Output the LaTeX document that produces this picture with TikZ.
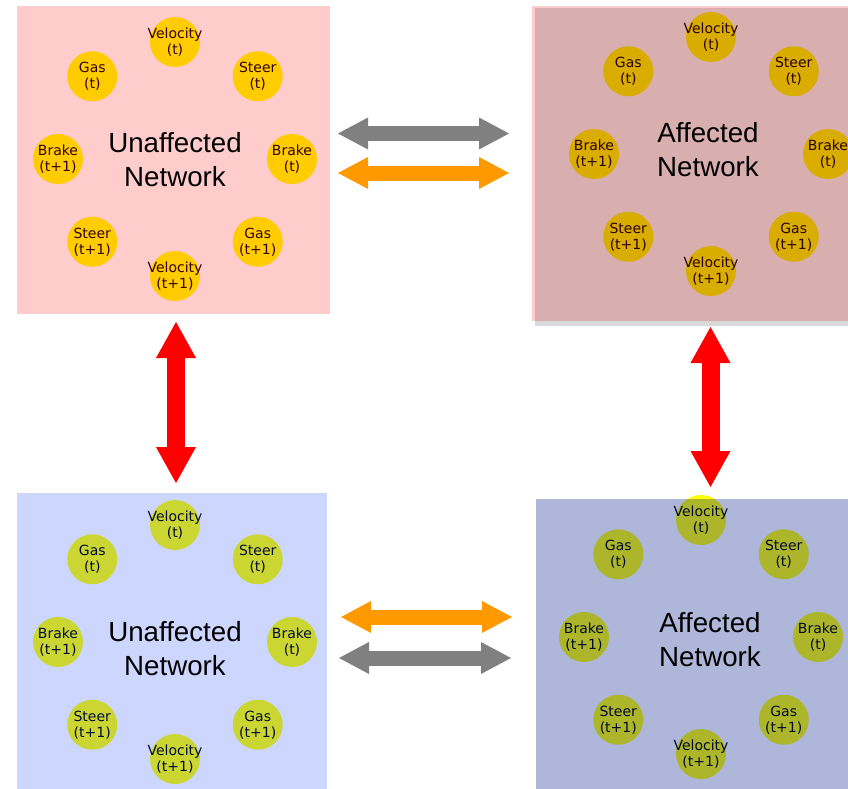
\documentclass[tikz,border=0pt]{standalone}
\usepackage{fontspec}
\setmainfont{Liberation Sans}
\newfontfamily\varfont{DejaVu Sans}
\usetikzlibrary{arrows.meta, calc}
\definecolor{color_var}{RGB}{255,255,0}
\definecolor{color_red}{RGB}{255,0,0}
\definecolor{color_blue}{RGB}{0,51,255}
\definecolor{color_orng}{RGB}{255,153,0}
\definecolor{color_gray}{RGB}{128,128,128}

\begin{document}
\begin{tikzpicture}[x=1pt, y=-1pt,
	var/.style={circle, fill=color_var, minimum size=50pt, inner sep=0pt},
	varname/.style={align=center, inner sep=0pt, font=\varfont\fontsize{14}{16}\selectfont},
	title/.style={align=center, font=\fontsize{27.7}{34}\selectfont},
	hlink/.style={line width=15pt,
		{Triangle[length=30pt, width=32pt, line width=0pt]}-{Triangle[length=30pt, width=32pt, line width=0pt]}},
	vlink/.style={line width=18pt, color_red,
		{Triangle[length=36pt, width=40pt, line width=0pt]}-{Triangle[length=36pt, width=40pt, line width=0pt]}}]
	\useasboundingbox (0,0) rectangle (848,789);
	% VARIABLES
	\foreach \net/\cx/\cy in {ul/175/159, ur/711/154, ll/175/642, lr/701/637}{
		\coordinate (\net) at (\cx,\cy);
		\foreach \a/\lbl [count=\i] in {90/{Velocity\\(t)}, 45/{Steer\\(t)}, 0/{Brake\\(t)},
			-45/{Gas\\(t+1)}, -90/{Velocity\\(t+1)}, -135/{Steer\\(t+1)}, 180/{Brake\\(t+1)}, 135/{Gas\\(t)}}
			\node[var, label={[varname]center:\lbl}] (\net-\i) at ($(\net)+(\a:117pt)$) {};
	}
	% NETWORKS
	\fill[color_red, fill opacity=.2] (17,6) rectangle (330,314);
	\fill[color_red, fill opacity=.2] (532,6) rectangle (848,321);
	\fill[black, fill opacity=.15] (535,8) rectangle (848,326);
	\fill[color_blue, fill opacity=.2] (17,493) rectangle (327,789);
	\fill[color_blue, fill opacity=.2] (536,499) rectangle (848,789);
	\fill[black, fill opacity=.15] (536,499) rectangle (848,789);
	\node[title] (ul-name) at (175,160) {Unaffected\\Network};
	\node[title] (ur-name) at (708,150) {Affected\\Network};
	\node[title] (ll-name) at (175,649) {Unaffected\\Network};
	\node[title] (lr-name) at (710,640) {Affected\\Network};
	% LINKS
	\coordinate (ul-e1) at (338,133.5);
	\coordinate (ur-w1) at (509,133.5);
	\coordinate (ul-e2) at (338,173);
	\coordinate (ur-w2) at (509,173);
	\coordinate (ll-e1) at (341,617);
	\coordinate (lr-w1) at (512,617);
	\coordinate (ll-e2) at (339,658);
	\coordinate (lr-w2) at (511,658);
	\coordinate (ul-s) at (176,322);
	\coordinate (ll-n) at (176,483);
	\coordinate (ur-s) at (710.5,327);
	\coordinate (lr-n) at (710.5,487);
	\draw[hlink, color_gray] (ul-e1) -- (ur-w1);
	\draw[hlink, color_orng] (ul-e2) -- (ur-w2);
	\draw[hlink, color_orng] (ll-e1) -- (lr-w1);
	\draw[hlink, color_gray] (ll-e2) -- (lr-w2);
	\draw[vlink] (ul-s) -- (ll-n);
	\draw[vlink] (ur-s) -- (lr-n);
\end{tikzpicture}
\end{document}
